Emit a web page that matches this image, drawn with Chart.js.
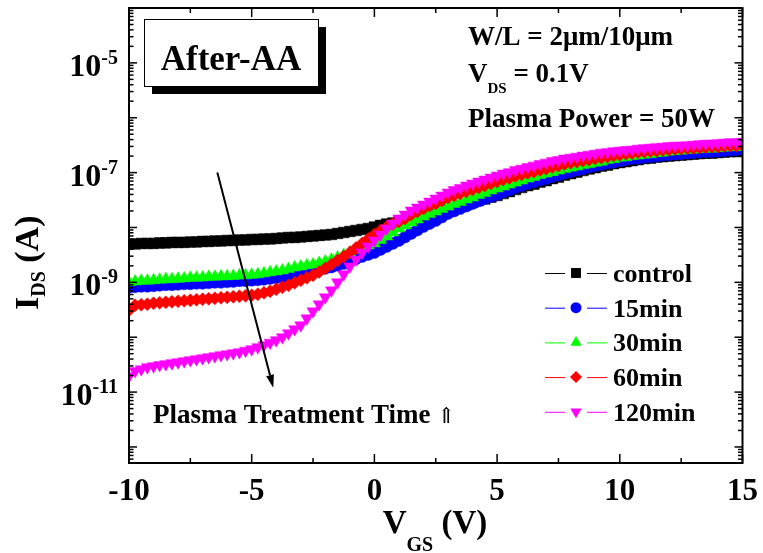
<!DOCTYPE html>
<html><head><meta charset="utf-8">
<script src="https://cdn.jsdelivr.net/npm/chart.js@4.4.1/dist/chart.umd.min.js"></script>
<style>html,body{margin:0;padding:0;background:#fff;}canvas{display:block;}</style>
</head><body>
<canvas id="c" width="763" height="553"></canvas>
<script>
// ---- data ----
const vgs = [-10,-9.75,-9.5,-9.25,-9,-8.75,-8.5,-8.25,-8,-7.75,-7.5,-7.25,-7,-6.75,-6.5,-6.25,-6,-5.75,-5.5,-5.25,-5,-4.75,-4.5,-4.25,-4,-3.75,-3.5,-3.25,-3,-2.75,-2.5,-2.25,-2,-1.75,-1.5,-1.25,-1,-0.75,-0.5,-0.25,0,0.25,0.5,0.75,1,1.25,1.5,1.75,2,2.25,2.5,2.75,3,3.25,3.5,3.75,4,4.25,4.5,4.75,5,5.25,5.5,5.75,6,6.25,6.5,6.75,7,7.25,7.5,7.75,8,8.25,8.5,8.75,9,9.25,9.5,9.75,10,10.25,10.5,10.75,11,11.25,11.5,11.75,12,12.25,12.5,12.75,13,13.25,13.5,13.75,14,14.25,14.5,14.75,15];

const idsControl = [5.01e-9,5.01e-9,5.12e-9,5.12e-9,5.12e-9,5.23e-9,5.23e-9,5.34e-9,5.34e-9,5.34e-9,5.45e-9,5.45e-9,5.57e-9,5.57e-9,5.68e-9,5.68e-9,5.80e-9,5.80e-9,5.92e-9,5.92e-9,6.05e-9,
6.05e-9,6.18e-9,6.18e-9,6.31e-9,6.44e-9,6.58e-9,6.58e-9,6.72e-9,6.86e-9,7.00e-9,7.15e-9,7.30e-9,7.46e-9,7.78e-9,8.11e-9,8.46e-9,8.82e-9,9.20e-9,9.59e-9,1.02e-8,
1.09e-8,1.16e-8,1.21e-8,1.26e-8,1.34e-8,1.43e-8,1.52e-8,1.62e-8,1.72e-8,1.83e-8,1.95e-8,2.12e-8,2.26e-8,2.46e-8,2.62e-8,2.85e-8,3.10e-8,3.30e-8,3.58e-8,3.82e-8,
4.15e-8,4.51e-8,4.91e-8,5.34e-8,5.80e-8,6.18e-8,6.72e-8,7.15e-8,7.78e-8,8.28e-8,9.00e-8,9.59e-8,1.02e-7,1.09e-7,1.16e-7,1.23e-7,1.31e-7,1.37e-7,1.46e-7,1.52e-7,
1.58e-7,1.65e-7,1.72e-7,1.80e-7,1.83e-7,1.91e-7,1.95e-7,2.00e-7,2.04e-7,2.08e-7,2.12e-7,2.17e-7,2.21e-7,2.26e-7,2.26e-7,2.31e-7,2.36e-7,2.41e-7,2.41e-7,2.46e-7];

const ids15min = [8.11e-10,8.28e-10,8.46e-10,8.46e-10,8.64e-10,8.82e-10,9.00e-10,9.00e-10,9.20e-10,9.39e-10,9.39e-10,9.59e-10,9.59e-10,9.79e-10,1.00e-9,1.00e-9,1.02e-9,1.04e-9,1.07e-9,1.07e-9,1.09e-9,
1.11e-9,1.14e-9,1.18e-9,1.21e-9,1.26e-9,1.31e-9,1.40e-9,1.46e-9,1.52e-9,1.58e-9,1.69e-9,1.80e-9,1.91e-9,2.04e-9,2.21e-9,2.41e-9,2.68e-9,2.97e-9,3.23e-9,3.51e-9,
3.98e-9,4.51e-9,5.12e-9,5.80e-9,6.72e-9,7.78e-9,9.00e-9,1.04e-8,1.18e-8,1.34e-8,1.55e-8,1.80e-8,2.00e-8,2.21e-8,2.46e-8,2.73e-8,3.04e-8,3.37e-8,3.66e-8,3.98e-8,
4.42e-8,4.81e-8,5.34e-8,5.80e-8,6.31e-8,6.72e-8,7.30e-8,7.78e-8,8.46e-8,9.00e-8,9.79e-8,1.04e-7,1.11e-7,1.18e-7,1.26e-7,1.34e-7,1.40e-7,1.49e-7,1.55e-7,1.65e-7,
1.72e-7,1.80e-7,1.83e-7,1.91e-7,1.95e-7,2.00e-7,2.08e-7,2.12e-7,2.17e-7,2.21e-7,2.26e-7,2.31e-7,2.36e-7,2.41e-7,2.41e-7,2.46e-7,2.51e-7,2.57e-7,2.57e-7,2.62e-7];

const ids30min = [1.00e-9,1.04e-9,1.07e-9,1.07e-9,1.09e-9,1.11e-9,1.14e-9,1.14e-9,1.16e-9,1.18e-9,1.21e-9,1.21e-9,1.23e-9,1.26e-9,1.26e-9,1.29e-9,1.29e-9,1.31e-9,1.34e-9,1.34e-9,1.37e-9,
1.40e-9,1.46e-9,1.52e-9,1.58e-9,1.65e-9,1.76e-9,1.87e-9,1.95e-9,2.04e-9,2.12e-9,2.26e-9,2.41e-9,2.62e-9,2.85e-9,3.16e-9,3.51e-9,3.90e-9,4.33e-9,4.71e-9,5.12e-9,
5.92e-9,6.86e-9,8.11e-9,9.59e-9,1.09e-8,1.23e-8,1.40e-8,1.58e-8,1.76e-8,1.95e-8,2.17e-8,2.41e-8,2.68e-8,2.91e-8,3.23e-8,3.51e-8,3.90e-8,4.24e-8,4.71e-8,5.12e-8,
5.57e-8,6.05e-8,6.58e-8,7.15e-8,7.78e-8,8.28e-8,9.00e-8,9.59e-8,1.02e-7,1.09e-7,1.16e-7,1.23e-7,1.29e-7,1.37e-7,1.43e-7,1.52e-7,1.58e-7,1.69e-7,1.76e-7,1.87e-7,
1.91e-7,2.00e-7,2.04e-7,2.12e-7,2.17e-7,2.26e-7,2.31e-7,2.41e-7,2.46e-7,2.51e-7,2.57e-7,2.62e-7,2.68e-7,2.73e-7,2.73e-7,2.79e-7,2.85e-7,2.91e-7,2.91e-7,2.97e-7];

const ids60min = [3.10e-10,3.82e-10,3.90e-10,3.98e-10,4.15e-10,4.24e-10,4.33e-10,4.42e-10,4.51e-10,4.61e-10,4.71e-10,4.81e-10,4.91e-10,5.01e-10,5.12e-10,5.23e-10,5.34e-10,5.45e-10,5.57e-10,5.68e-10,5.80e-10,
6.05e-10,6.44e-10,6.86e-10,7.46e-10,8.11e-10,8.82e-10,9.79e-10,1.09e-9,1.21e-9,1.34e-9,1.55e-9,1.80e-9,2.12e-9,2.51e-9,2.97e-9,3.51e-9,4.24e-9,5.12e-9,6.18e-9,7.46e-9,
8.82e-9,1.02e-8,1.16e-8,1.29e-8,1.46e-8,1.72e-8,1.95e-8,2.21e-8,2.51e-8,2.73e-8,3.10e-8,3.51e-8,3.82e-8,4.15e-8,4.51e-8,4.91e-8,5.34e-8,5.80e-8,6.31e-8,6.86e-8,
7.46e-8,7.94e-8,8.64e-8,9.20e-8,9.79e-8,1.04e-7,1.11e-7,1.18e-7,1.26e-7,1.34e-7,1.43e-7,1.52e-7,1.58e-7,1.65e-7,1.72e-7,1.80e-7,1.87e-7,1.95e-7,2.04e-7,2.12e-7,
2.21e-7,2.26e-7,2.36e-7,2.41e-7,2.46e-7,2.51e-7,2.57e-7,2.62e-7,2.68e-7,2.73e-7,2.79e-7,2.79e-7,2.85e-7,2.91e-7,2.97e-7,2.97e-7,3.04e-7,3.10e-7,3.10e-7,3.16e-7];

const ids120min = [1.95e-11,2.41e-11,2.62e-11,2.85e-11,2.97e-11,3.10e-11,3.23e-11,3.37e-11,3.51e-11,3.66e-11,3.82e-11,3.98e-11,4.15e-11,4.33e-11,4.51e-11,4.71e-11,4.91e-11,5.12e-11,5.34e-11,5.68e-11,6.05e-11,
6.58e-11,7.15e-11,7.94e-11,8.82e-11,1.00e-10,1.18e-10,1.40e-10,1.65e-10,2.21e-10,2.97e-10,3.98e-10,5.34e-10,7.15e-10,1.00e-9,1.40e-9,1.95e-9,2.62e-9,3.51e-9,4.51e-9,5.80e-9,
7.46e-9,9.59e-9,1.18e-8,1.46e-8,1.72e-8,2.04e-8,2.31e-8,2.62e-8,2.97e-8,3.37e-8,3.82e-8,4.33e-8,4.81e-8,5.23e-8,5.80e-8,6.31e-8,6.86e-8,7.46e-8,8.11e-8,8.82e-8,
9.59e-8,1.02e-7,1.11e-7,1.18e-7,1.26e-7,1.34e-7,1.43e-7,1.52e-7,1.62e-7,1.69e-7,1.80e-7,1.87e-7,1.95e-7,2.04e-7,2.12e-7,2.21e-7,2.31e-7,2.36e-7,2.46e-7,2.51e-7,
2.57e-7,2.62e-7,2.73e-7,2.79e-7,2.85e-7,2.91e-7,2.97e-7,3.04e-7,3.10e-7,3.10e-7,3.16e-7,3.23e-7,3.30e-7,3.37e-7,3.37e-7,3.44e-7,3.51e-7,3.58e-7,3.58e-7,3.66e-7];

const seriesNames = ['control', '15min', '30min', '60min', '120min'];
const seriesColors = ['#000000', '#0000ff', '#00ff00', '#ff0000', '#ff00ff'];
const xTickLabels = ['-10', '-5', '0', '5', '10', '15'];
const xTickValues = [-10, -5, 0, 5, 10, 15];
const xMinorValues = [-7.5, -2.5, 2.5, 7.5, 12.5];
const yLabelExponents = [-5, -7, -9, -11];
const yDecadeExponents = [-13, -12, -11, -10, -9, -8, -7, -6, -5, -4];
const arrowFrom = [-6.4, 1.0e-7];
const arrowTo = [-4.12, 1.2e-11];

// ---- chart ----
const FONT = '"Liberation Serif", "Times New Roman", serif';
const allSeries = [idsControl, ids15min, ids30min, ids60min, ids120min];
const markerStyles = [
  {pointStyle: 'rect', radius: 7.5, rotation: 0},
  {pointStyle: 'circle', radius: 6, rotation: 0},
  {pointStyle: 'triangle', radius: 7, rotation: 0},
  {pointStyle: 'rectRot', radius: 6.5, rotation: 0},
  {pointStyle: 'triangle', radius: 7, rotation: 180}
];

const datasets = allSeries.map((arr, i) => ({
  label: seriesNames[i],
  data: vgs.map((v, k) => ({x: v, y: arr[k]})),
  borderColor: seriesColors[i],
  backgroundColor: seriesColors[i],
  pointBackgroundColor: seriesColors[i],
  pointBorderColor: seriesColors[i],
  borderWidth: 1,
  pointBorderWidth: 0.5,
  pointStyle: markerStyles[i].pointStyle,
  pointRadius: markerStyles[i].radius,
  pointRotation: markerStyles[i].rotation,
  tension: 0,
  clip: 0,
  order: 5 - i
}));

function fillSub(ctx, parts, x, y) {
  let cx = x;
  for (const [t, size, dy] of parts) {
    ctx.font = 'bold ' + size + 'px ' + FONT;
    ctx.fillText(t, cx, y + dy);
    cx += ctx.measureText(t).width;
  }
  return cx - x;
}
function measureSub(ctx, parts) {
  let w = 0;
  for (const [t, size] of parts) { ctx.font = 'bold ' + size + 'px ' + FONT; w += ctx.measureText(t).width; }
  return w;
}

const decor = {
  id: 'decor',
  beforeDraw(chart) {
    const ctx = chart.ctx;
    ctx.save(); ctx.fillStyle = '#fff'; ctx.fillRect(0, 0, chart.width, chart.height); ctx.restore();
  },
  afterDraw(chart) {
    const ctx = chart.ctx, a = chart.chartArea, xs = chart.scales.x, ys = chart.scales.y;
    ctx.save();
    ctx.strokeStyle = '#000'; ctx.fillStyle = '#000';
    ctx.lineWidth = 2;
    ctx.strokeRect(a.left, a.top, a.right - a.left, a.bottom - a.top);
    ctx.lineWidth = 1.5;
    const seg = (x1, y1, x2, y2) => { ctx.beginPath(); ctx.moveTo(x1, y1); ctx.lineTo(x2, y2); ctx.stroke(); };
    xTickValues.forEach(v => { const p = xs.getPixelForValue(v); seg(p, a.bottom, p, a.bottom - 9); seg(p, a.top, p, a.top + 9); });
    xMinorValues.forEach(v => { const p = xs.getPixelForValue(v); seg(p, a.bottom, p, a.bottom - 5); seg(p, a.top, p, a.top + 5); });
    yDecadeExponents.forEach(e => {
      for (let m = 1; m <= 9; m++) {
        const val = m * Math.pow(10, e);
        if (val < ys.min * 0.999 || val > ys.max * 1.001) continue;
        const p = ys.getPixelForValue(val);
        const len = m === 1 ? 8 : 4.5;
        seg(a.left, p, a.left + len, p); seg(a.right, p, a.right - len, p);
      }
    });
    ctx.textAlign = 'center'; ctx.textBaseline = 'alphabetic';
    ctx.font = 'bold 31px ' + FONT;
    xTickValues.forEach((v, i) => ctx.fillText(xTickLabels[i], xs.getPixelForValue(v), a.bottom + 37));
    yLabelExponents.forEach(e => {
      const p = ys.getPixelForValue(Math.pow(10, e));
      ctx.textAlign = 'right';
      ctx.font = 'bold 20px ' + FONT;
      const es = String(e);
      const ew = ctx.measureText(es).width;
      ctx.fillText(es, a.left - 11, p + 1);
      ctx.font = 'bold 32px ' + FONT;
      ctx.fillText('10', a.left - 11 - ew, p + 13);
    });
    ctx.textAlign = 'left';
    const xt = [['V', 33, 0], ['GS', 20, 18], [' (V)', 33, 0]];
    const xw = measureSub(ctx, xt);
    fillSub(ctx, xt, 435 - xw / 2, 533);
    ctx.save();
    ctx.translate(38, 310); ctx.rotate(-Math.PI / 2);
    fillSub(ctx, [['I', 34, 0], ['DS', 20, 7], [' (A)', 34, 0]], 0, 0);
    ctx.restore();
    ctx.fillStyle = '#000'; ctx.fillRect(152, 27, 174, 67);
    ctx.fillStyle = '#fff'; ctx.fillRect(144, 19.5, 174, 67);
    ctx.lineWidth = 1; ctx.strokeStyle = '#000'; ctx.strokeRect(144.5, 19.5, 174, 67);
    ctx.fillStyle = '#000';
    ctx.textAlign = 'center'; ctx.font = 'bold 35px ' + FONT;
    ctx.fillText('After-AA', 231, 70);
    ctx.textAlign = 'left';
    ctx.font = 'bold 27px ' + FONT;
    ctx.fillText('W/L = 2\u03bcm/10\u03bcm', 468, 45);
    fillSub(ctx, [['V', 27, 0], ['DS', 15, 11], [' = 0.1V', 27, 0]], 468, 82);
    ctx.font = 'bold 27px ' + FONT;
    ctx.fillText('Plasma Power = 50W', 468, 127);
    ctx.fillText('Plasma Treatment Time', 153, 423);
    const ptw = ctx.measureText('Plasma Treatment Time ').width;
    ctx.font = '22px "DejaVu Serif", serif';
    ctx.fillText('\u21d1', 153 + ptw, 423);
    const x1 = xs.getPixelForValue(arrowFrom[0]), y1 = ys.getPixelForValue(arrowFrom[1]);
    const x2 = xs.getPixelForValue(arrowTo[0]), y2 = ys.getPixelForValue(arrowTo[1]);
    const ang = Math.atan2(y2 - y1, x2 - x1);
    const hl = 13, hw = 4;
    const bx = x2 - Math.cos(ang) * hl, by = y2 - Math.sin(ang) * hl;
    ctx.lineWidth = 2;
    seg(x1, y1, bx, by);
    ctx.beginPath();
    ctx.moveTo(x2, y2);
    ctx.lineTo(bx - Math.sin(ang) * hw, by + Math.cos(ang) * hw);
    ctx.lineTo(bx + Math.sin(ang) * hw, by - Math.cos(ang) * hw);
    ctx.closePath(); ctx.fill();
    chart.data.datasets.forEach((ds, i) => {
      const yc = 273 + i * 34.7;
      ctx.strokeStyle = ds.borderColor; ctx.fillStyle = ds.backgroundColor;
      ctx.lineWidth = 1;
      seg(545, yc + 0.5, 565, yc + 0.5); seg(587, yc + 0.5, 607, yc + 0.5);
      Chart.helpers.drawPoint(ctx, {pointStyle: ds.pointStyle, radius: ds.pointRadius - 0.5, rotation: ds.pointRotation, borderWidth: 0}, 576, yc);
      ctx.fillStyle = '#000';
      ctx.font = 'bold 26px ' + FONT;
      ctx.fillText(ds.label, 613, yc + 9);
    });
    ctx.restore();
  }
};

new Chart(document.getElementById('c'), {
  type: 'line',
  data: {datasets},
  options: {
    responsive: false,
    animation: false,
    devicePixelRatio: 1,
    layout: {padding: {top: 8, right: 20.5, left: 0, bottom: 0}},
    plugins: {legend: {display: false}, tooltip: {enabled: false}},
    scales: {
      x: {type: 'linear', min: -10, max: 15,
          grid: {display: false}, border: {display: false}, ticks: {display: false},
          afterFit(s) { s.height = 90; }},
      y: {type: 'logarithmic', min: 5.1e-13, max: 1e-4,
          grid: {display: false}, border: {display: false}, ticks: {display: false},
          afterFit(s) { s.width = 129; }}
    }
  },
  plugins: [decor]
});
</script>
</body></html>
